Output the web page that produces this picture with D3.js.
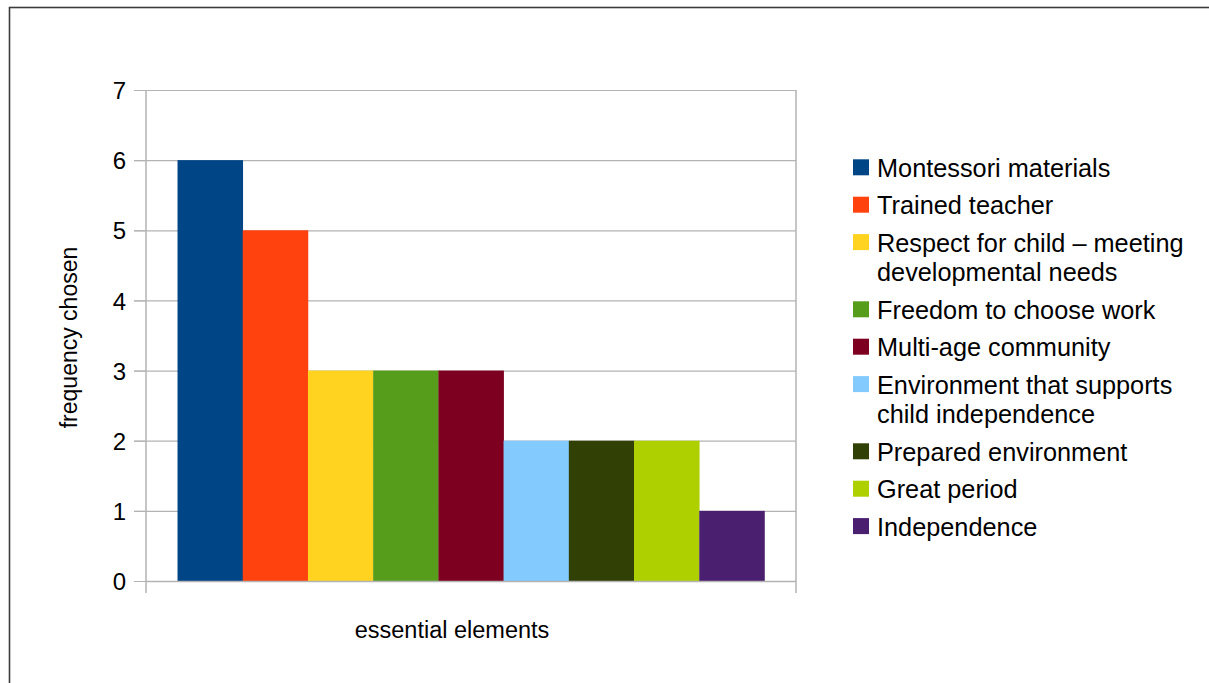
<!DOCTYPE html>
<html>
<head>
<meta charset="utf-8">
<script src="https://cdn.jsdelivr.net/npm/d3@7"></script>
<style>
  html, body { margin: 0; padding: 0; background: #ffffff; }
  svg { display: block; }
  text { font-family: "Liberation Sans", Arial, sans-serif; fill: #000; }
</style>
</head>
<body>
<svg id="chart" width="1209" height="683"></svg>
<script>
// ---- data ----
const categories = ["essential elements"];
const seriesNames = [
  "Montessori materials",
  "Trained teacher",
  "Respect for child – meeting developmental needs",
  "Freedom to choose work",
  "Multi-age community",
  "Environment that supports child independence",
  "Prepared environment",
  "Great period",
  "Independence"
];
const seriesValues = [6, 5, 3, 3, 3, 2, 2, 2, 1];
const seriesColors = ["#004586", "#ff420e", "#ffd320", "#579d1c", "#7e0021", "#83caff", "#314004", "#aecf00", "#4b1f6f"];
const yTicks = [0, 1, 2, 3, 4, 5, 6, 7];
const yTitle = "frequency chosen";

// ---- layout ----
const svg = d3.select("#chart");
const plot = { left: 146, right: 796, top: 90, bottom: 581 };
const gridColor = "#b3b3b3";

// outer border
svg.append("rect")
  .attr("x", 9.5).attr("y", 7.5)
  .attr("width", 1400).attr("height", 900)
  .attr("fill", "none").attr("stroke", "#3c3c3c").attr("stroke-width", 1.6);

const y = d3.scaleLinear().domain([0, 7]).range([plot.bottom, plot.top]);
const x0 = d3.scaleBand().domain(categories).range([plot.left, plot.right])
  .paddingInner(0).paddingOuter(0.0537);
const x1 = d3.scaleBand().domain(seriesNames).range([0, x0.bandwidth()]).padding(0);

// gridlines
svg.append("g").selectAll("line").data(yTicks).join("line")
  .attr("x1", plot.left - 12).attr("x2", plot.right)
  .attr("y1", d => y(d) + 0.5).attr("y2", d => y(d) + 0.5)
  .attr("stroke", gridColor).attr("stroke-width", 1.2);

// y axis (labels)
const yAxis = svg.append("g")
  .attr("transform", `translate(${plot.left},0)`)
  .call(d3.axisLeft(y).tickValues(yTicks).tickFormat(d3.format("d"))
    .tickSize(12).tickSizeOuter(0).tickPadding(8));
yAxis.select(".domain").remove();
yAxis.selectAll(".tick line").attr("stroke", gridColor);
yAxis.selectAll(".tick text")
  .style("font-size", "24px")
  .style("font-family", '"Liberation Sans", Arial, sans-serif')
  .attr("dy", "0.36em").attr("fill", "#000");

// bars
svg.append("g").selectAll("g").data(categories).join("g")
  .attr("transform", d => `translate(${x0(d)},0)`)
  .selectAll("rect")
  .data(() => seriesNames.map((n, i) => ({ name: n, value: seriesValues[i], color: seriesColors[i] })))
  .join("rect")
  .attr("x", d => x1(d.name))
  .attr("width", x1.bandwidth() + 0.3)
  .attr("y", d => y(d.value))
  .attr("height", d => y(0) - y(d.value))
  .attr("fill", d => d.color);

// axis frame lines (wall + category axis)
const frame = svg.append("g").attr("stroke", gridColor).attr("stroke-width", 1.5);
const xr = x0.range();
frame.append("line").attr("x1", xr[0]).attr("x2", xr[0]).attr("y1", plot.top).attr("y2", plot.bottom + 12);
frame.append("line").attr("x1", xr[1]).attr("x2", xr[1]).attr("y1", plot.top).attr("y2", plot.bottom + 12);
frame.append("line").attr("x1", xr[0]).attr("x2", xr[1]).attr("y1", plot.bottom + 0.5).attr("y2", plot.bottom + 0.5);

// axis titles
svg.append("text")
  .attr("x", x0(categories[0]) + x0.bandwidth() / 2 - 19)
  .attr("y", 638)
  .attr("text-anchor", "middle")
  .style("font-size", "23.5px")
  .text(categories[0]);

svg.append("text")
  .attr("transform", `translate(77,${(plot.top + plot.bottom) / 2 + 2}) rotate(-90)`)
  .attr("text-anchor", "middle")
  .style("font-size", "23px")
  .text(yTitle);

// legend
const legend = svg.append("g");
const legendX = 853, swatch = 16, textX = 877, step = 37.4, wrapStep = 29.8, maxW = 322;
let cy = 159.3;
seriesNames.forEach((name, i) => {
  legend.append("rect")
    .attr("x", legendX).attr("y", cy)
    .attr("width", swatch).attr("height", swatch)
    .attr("fill", seriesColors[i]);
  const t = legend.append("text")
    .attr("x", textX).attr("y", cy + 17.4)
    .style("font-size", "25.3px");
  // wrap by width
  const words = name.split(" ");
  let line = [];
  let ts = t.append("tspan").attr("x", textX);
  words.forEach(w => {
    line.push(w);
    ts.text(line.join(" "));
    if (ts.node().getComputedTextLength() > maxW && line.length > 1) {
      line.pop();
      ts.text(line.join(" "));
      line = [w];
      ts = t.append("tspan").attr("x", textX).attr("dy", wrapStep).text(w);
    }
  });
  const nLines = t.selectAll("tspan").size();
  cy += step + (nLines - 1) * wrapStep;
});
</script>
</body>
</html>
